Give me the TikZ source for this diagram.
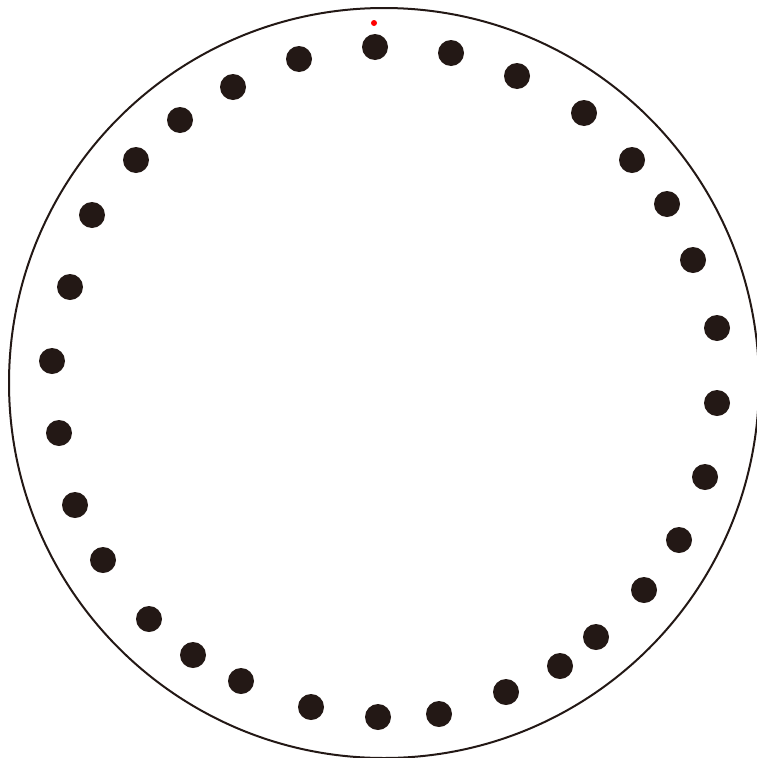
\documentclass[tikz,border=0pt]{standalone}
\usepackage{xcolor}
\usepackage{tikz}
\usetikzlibrary{positioning}

\definecolor{dotblack}{HTML}{231815}

\begin{document}
\begin{tikzpicture}[
    x=1pt, y=-1pt,
    rim/.style={draw=dotblack, line width=2pt},
    hole/.style={circle, fill=dotblack, inner sep=0pt, minimum size=26pt},
    redmark/.style={circle, fill=red, inner sep=0pt, minimum size=6pt}
]
\useasboundingbox (0,0) rectangle (756,758);
% Outer ring
\node[rim, circle, inner sep=0pt, minimum size=750pt] (ring) at (384,383) {};
% Marker at the top
\node[redmark] (top) at (374,23) {};
% Holes around the ring
\foreach \x/\y [count=\i] in {
    375/47, 451/53, 517/76, 584/113, 632/160, 667/204, 693/260,
    717/328, 717/403, 705/477, 679/540, 644/590, 596/637, 560/666,
    506/692, 439/714, 378/717, 311/707, 241/681, 193/655, 149/619,
    103/560, 75/505, 59/433, 52/361, 70/287, 92/215, 136/160,
    180/120, 233/87, 299/59}
  \node[hole] (h\i) at (\x,\y) {};
\end{tikzpicture}
\end{document}
